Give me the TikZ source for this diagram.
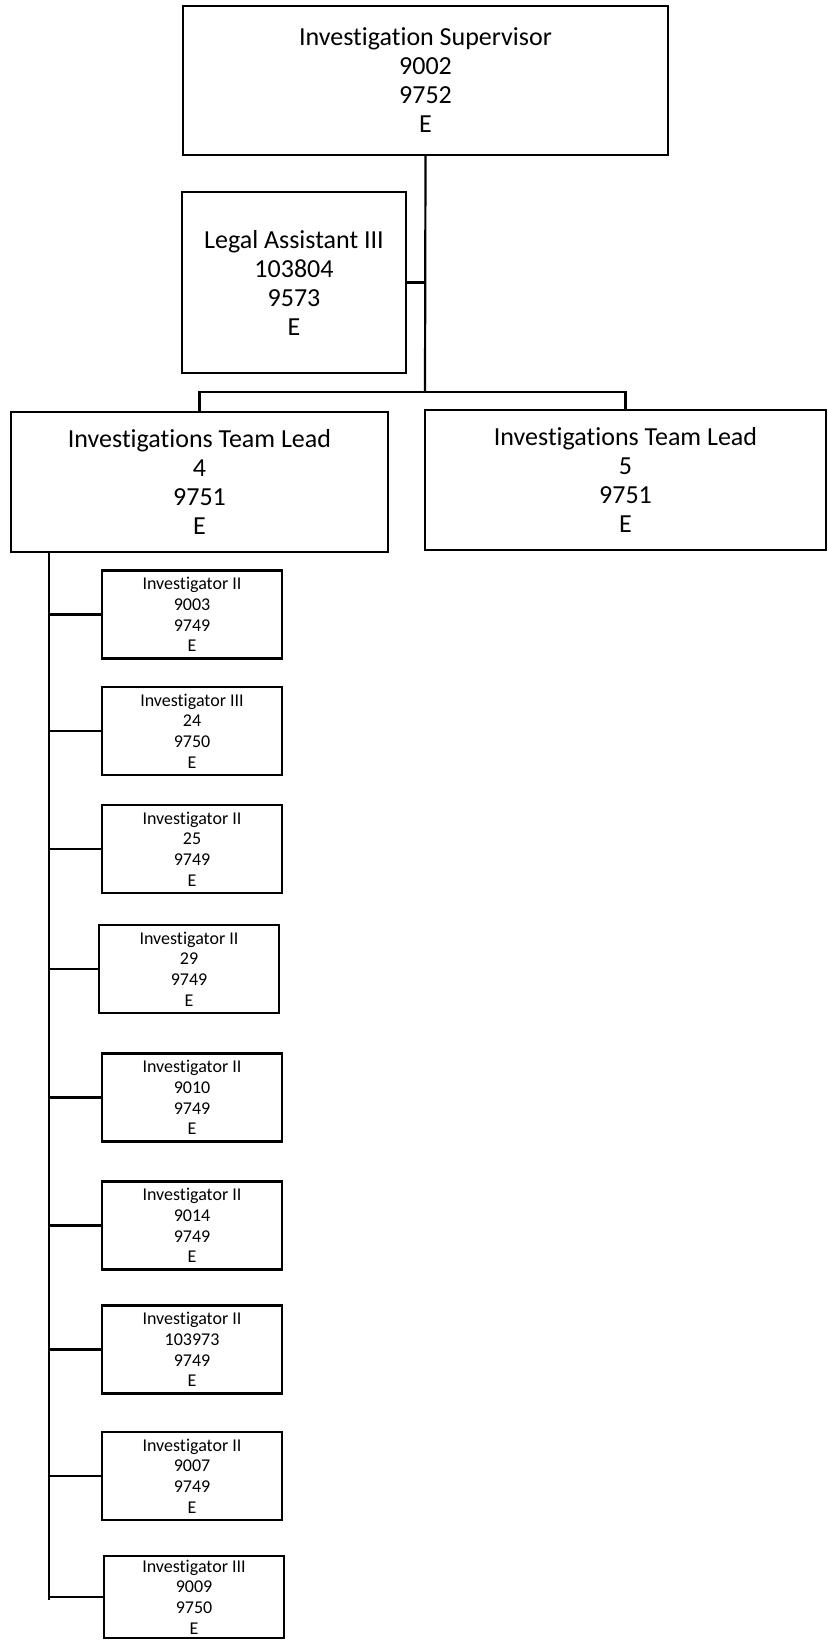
\documentclass[tikz,border=0pt]{standalone}
\usepackage{fontspec}
\setmainfont[Ligatures=NoCommon]{Carlito}
\begin{document}
\begin{tikzpicture}[x=1pt,y=-1pt,line width=2.2pt,
        every node/.style={rectangle,draw,align=center,inner sep=0pt},
        big/.style={font=\fontsize{26}{29}\selectfont},
        small/.style={font=\fontsize{18}{20.7}\selectfont,minimum width=180pt,minimum height=88pt}]
        \useasboundingbox (0,0) rectangle (827,1640);

        \node[big,minimum width=485pt,minimum height=149pt] at (425.5,80.5) (sup) {Investigation Supervisor\\9002\\9752\\E};
        \node[big,minimum width=224pt,minimum height=181pt] at (294,282.5) (legal) {Legal Assistant III\\103804\\9573\\E};
        \node[big,minimum width=377pt,minimum height=140pt] at (199.5,482) (lead4) {Investigations Team Lead\\4\\9751\\E};
        \node[big,minimum width=401pt,minimum height=140pt] at (625.5,480) (lead5) {Investigations Team Lead\\5\\9751\\E};

        \node[small] at (192,614.5) (inv1) {Investigator II\\9003\\9749\\E};
        \node[small] at (192,731) (inv2) {Investigator III\\24\\9750\\E};
        \node[small] at (192,849) (inv3) {Investigator II\\25\\9749\\E};
        \node[small] at (189,969) (inv4) {Investigator II\\29\\9749\\E};
        \node[small] at (192,1097.5) (inv5) {Investigator II\\9010\\9749\\E};
        \node[small] at (192,1225.5) (inv6) {Investigator II\\9014\\9749\\E};
        \node[small] at (192,1349.5) (inv7) {Investigator II\\103973\\9749\\E};
        \node[small] at (192,1476) (inv8) {Investigator II\\9007\\9749\\E};
        \node[small,minimum height=82pt] at (194,1597) (inv9) {Investigator III\\9009\\9750\\E};

        \coordinate (bar) at (425,392);
        \coordinate (trunk) at (49,1600);

        \draw (sup.south) -- (bar);
        \draw (legal.east) -- (legal.east -| bar);
        \draw (lead4.north) |- (bar) -| (lead5.north);
        \draw (lead4.south -| trunk) -- (trunk);
        \foreach \i in {1,...,9}
            \draw (inv\i.west -| trunk) -- (inv\i.west);
    \end{tikzpicture}
\end{document}
